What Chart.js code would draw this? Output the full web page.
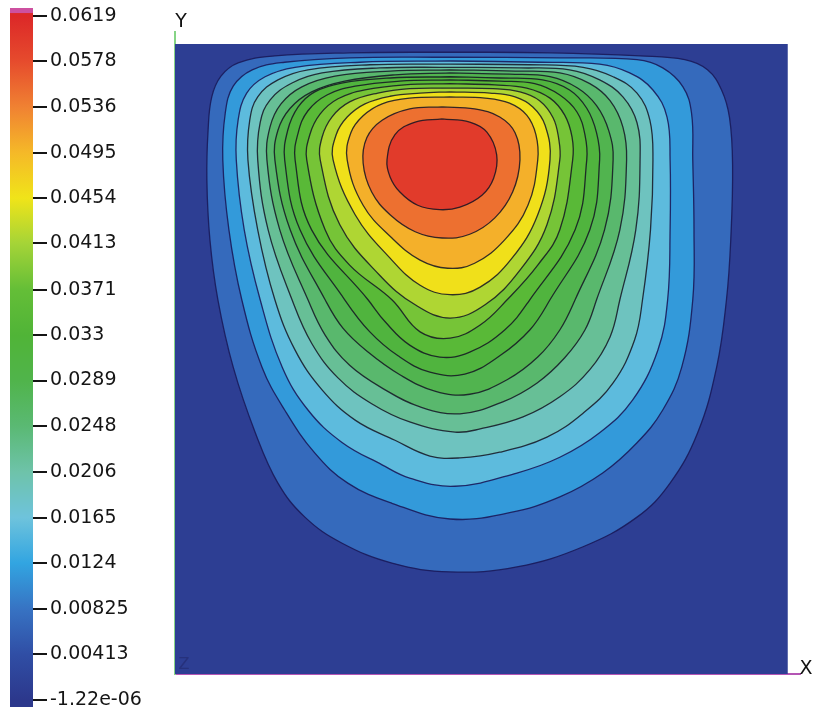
<!DOCTYPE html>
<html><head><meta charset="utf-8">
<script src="https://cdn.jsdelivr.net/npm/chart.js@4.4.1/dist/chart.umd.min.js"></script>
<style>
html,body{margin:0;padding:0;background:#fff;}
#wrap{position:relative;width:813px;height:711px;}
canvas{position:absolute;left:0;top:0;}
</style></head><body>
<div id="wrap">
<canvas id="main" width="813" height="711"></canvas>
<canvas id="bar" width="170" height="711"></canvas>
</div>
<script>
// ---- colour bar (values & labels) ----
const colorbarTicks = [0.0619, 0.0578, 0.0536, 0.0495, 0.0454, 0.0413, 0.0371, 0.033, 0.0289, 0.0248, 0.0206, 0.0165, 0.0124, 0.00825, 0.00413, -1.22e-06];
const colorbarLabels = ['0.0619','0.0578','0.0536','0.0495','0.0454','0.0413','0.0371','0.033','0.0289','0.0248','0.0206','0.0165','0.0124','0.00825','0.00413','-1.22e-06'];

// ---- contour levels (outermost -> innermost), estimated from the band colours ----
const contourLevels = [0.0050, 0.0095, 0.0135, 0.0172, 0.0205, 0.0238, 0.0270, 0.0300, 0.0332, 0.0365, 0.0400, 0.0437, 0.0478, 0.0525, 0.0575];

// ---- cavity outline ----
const cavityX = [0, 1, 1, 0, 0];
const cavityY = [0, 0, 1, 1, 0];

// ---- contour lines, [x, y] in cavity units ----
const contour01 = [[0.449,0.987],[0.612,0.986],[0.759,0.981],[0.832,0.975],[0.869,0.959],[0.892,0.927],[0.905,0.883],[0.910,0.808],[0.907,0.689],[0.900,0.594],[0.884,0.487],[0.853,0.383],[0.808,0.303],[0.754,0.249],[0.666,0.202],[0.558,0.170],[0.449,0.162],[0.354,0.176],[0.272,0.208],[0.212,0.249],[0.168,0.303],[0.131,0.383],[0.095,0.487],[0.070,0.594],[0.057,0.689],[0.052,0.784],[0.054,0.863],[0.060,0.916],[0.075,0.949],[0.103,0.970],[0.163,0.981],[0.285,0.986]];
const contour02 = [[0.449,0.979],[0.628,0.978],[0.754,0.975],[0.796,0.962],[0.829,0.932],[0.843,0.890],[0.845,0.816],[0.847,0.705],[0.845,0.594],[0.827,0.487],[0.796,0.419],[0.754,0.367],[0.698,0.319],[0.628,0.281],[0.546,0.256],[0.449,0.246],[0.354,0.271],[0.282,0.303],[0.228,0.351],[0.179,0.419],[0.142,0.487],[0.109,0.594],[0.088,0.705],[0.078,0.816],[0.082,0.890],[0.095,0.933],[0.126,0.959],[0.179,0.971],[0.285,0.978]];
const contour03 = [[0.449,0.973],[0.595,0.971],[0.693,0.968],[0.742,0.954],[0.780,0.927],[0.803,0.884],[0.808,0.816],[0.808,0.705],[0.804,0.594],[0.788,0.514],[0.747,0.435],[0.693,0.383],[0.628,0.344],[0.558,0.319],[0.457,0.298],[0.383,0.311],[0.338,0.332],[0.272,0.368],[0.217,0.419],[0.175,0.487],[0.139,0.594],[0.113,0.705],[0.100,0.816],[0.103,0.879],[0.117,0.922],[0.147,0.948],[0.196,0.963],[0.302,0.971]];
const contour04 = [[0.449,0.968],[0.579,0.967],[0.666,0.963],[0.715,0.948],[0.754,0.922],[0.775,0.879],[0.780,0.816],[0.776,0.705],[0.763,0.594],[0.750,0.530],[0.715,0.462],[0.666,0.414],[0.607,0.376],[0.530,0.352],[0.465,0.343],[0.416,0.346],[0.359,0.371],[0.294,0.403],[0.240,0.451],[0.196,0.514],[0.163,0.594],[0.135,0.705],[0.119,0.816],[0.122,0.879],[0.135,0.916],[0.168,0.943],[0.217,0.959],[0.318,0.967]];
const contour05 = [[0.449,0.963],[0.563,0.962],[0.644,0.959],[0.693,0.943],[0.731,0.916],[0.754,0.875],[0.759,0.816],[0.752,0.705],[0.726,0.594],[0.710,0.535],[0.677,0.483],[0.628,0.440],[0.568,0.408],[0.498,0.389],[0.457,0.384],[0.383,0.400],[0.321,0.429],[0.266,0.470],[0.223,0.525],[0.191,0.594],[0.152,0.705],[0.135,0.816],[0.139,0.875],[0.155,0.911],[0.191,0.938],[0.240,0.954],[0.334,0.962]];
const contour06 = [[0.449,0.959],[0.555,0.957],[0.628,0.954],[0.677,0.937],[0.710,0.910],[0.731,0.868],[0.737,0.816],[0.726,0.705],[0.688,0.594],[0.669,0.546],[0.636,0.502],[0.591,0.462],[0.535,0.432],[0.465,0.413],[0.400,0.424],[0.343,0.451],[0.285,0.490],[0.245,0.538],[0.217,0.594],[0.171,0.705],[0.150,0.816],[0.155,0.868],[0.173,0.905],[0.207,0.932],[0.261,0.949],[0.351,0.957]];
const contour07 = [[0.449,0.954],[0.546,0.952],[0.612,0.948],[0.657,0.930],[0.688,0.902],[0.708,0.862],[0.715,0.816],[0.701,0.705],[0.653,0.594],[0.628,0.546],[0.592,0.503],[0.542,0.467],[0.481,0.444],[0.424,0.449],[0.367,0.475],[0.315,0.511],[0.274,0.549],[0.245,0.594],[0.188,0.705],[0.163,0.816],[0.168,0.863],[0.188,0.898],[0.223,0.924],[0.277,0.941],[0.359,0.951]];
const contour08 = [[0.449,0.948],[0.530,0.946],[0.600,0.943],[0.644,0.927],[0.672,0.898],[0.688,0.859],[0.693,0.816],[0.677,0.705],[0.612,0.594],[0.579,0.546],[0.530,0.505],[0.473,0.476],[0.416,0.479],[0.364,0.505],[0.318,0.543],[0.277,0.594],[0.204,0.705],[0.179,0.816],[0.184,0.863],[0.201,0.900],[0.228,0.924],[0.272,0.938],[0.351,0.946]];
const contour09 = [[0.449,0.943],[0.530,0.941],[0.587,0.937],[0.628,0.919],[0.656,0.892],[0.669,0.856],[0.672,0.816],[0.653,0.705],[0.579,0.594],[0.538,0.546],[0.481,0.511],[0.432,0.503],[0.383,0.522],[0.343,0.559],[0.315,0.594],[0.223,0.705],[0.196,0.816],[0.201,0.859],[0.217,0.894],[0.248,0.919],[0.294,0.933],[0.367,0.941]];
const contour10 = [[0.449,0.937],[0.522,0.935],[0.574,0.930],[0.612,0.914],[0.636,0.887],[0.648,0.852],[0.649,0.816],[0.628,0.705],[0.592,0.649],[0.542,0.594],[0.498,0.554],[0.449,0.533],[0.400,0.543],[0.354,0.594],[0.285,0.649],[0.245,0.705],[0.215,0.816],[0.220,0.856],[0.237,0.889],[0.266,0.913],[0.310,0.927],[0.375,0.935]];
const contour11 = [[0.449,0.930],[0.519,0.929],[0.563,0.924],[0.595,0.910],[0.617,0.883],[0.626,0.851],[0.628,0.816],[0.607,0.713],[0.563,0.641],[0.506,0.586],[0.449,0.565],[0.392,0.586],[0.334,0.633],[0.269,0.713],[0.237,0.816],[0.240,0.852],[0.256,0.884],[0.285,0.908],[0.331,0.922],[0.383,0.929]];
const contour12 = [[0.449,0.924],[0.514,0.922],[0.555,0.916],[0.584,0.900],[0.604,0.871],[0.612,0.816],[0.592,0.729],[0.550,0.660],[0.498,0.614],[0.449,0.602],[0.400,0.617],[0.351,0.660],[0.294,0.729],[0.258,0.816],[0.263,0.856],[0.281,0.884],[0.310,0.905],[0.351,0.917],[0.400,0.922]];
const contour13 = [[0.449,0.916],[0.506,0.914],[0.546,0.906],[0.574,0.887],[0.589,0.856],[0.592,0.816],[0.576,0.744],[0.538,0.689],[0.489,0.652],[0.445,0.644],[0.400,0.657],[0.354,0.692],[0.307,0.744],[0.281,0.816],[0.287,0.859],[0.307,0.886],[0.338,0.905],[0.383,0.914]];
const contour14 = [[0.436,0.900],[0.489,0.897],[0.530,0.884],[0.555,0.859],[0.563,0.816],[0.551,0.765],[0.522,0.724],[0.481,0.698],[0.436,0.692],[0.392,0.702],[0.351,0.729],[0.321,0.765],[0.307,0.811],[0.313,0.851],[0.338,0.879],[0.383,0.897]];
const contour15 = [[0.436,0.881],[0.481,0.876],[0.509,0.860],[0.525,0.824],[0.520,0.787],[0.501,0.760],[0.465,0.741],[0.432,0.737],[0.396,0.744],[0.367,0.765],[0.351,0.789],[0.346,0.816],[0.359,0.856],[0.392,0.876]];

const contours = [contour01, contour02, contour03, contour04, contour05, contour06, contour07, contour08, contour09, contour10, contour11, contour12, contour13, contour14, contour15];

// ---- colour map (style), one colour per colour-bar tick ----
const cmapColors = [[220,40,40],[230,75,45],[240,130,50],[245,185,40],[240,228,25],[165,212,55],[100,190,55],[80,180,55],[80,180,75],[90,185,115],[110,195,170],[110,195,220],[50,165,225],[55,115,195],[48,78,165],[44,56,140]];
const aboveColor = [205,80,160];

function colorAt(v) {
  const n = colorbarTicks.length;
  if (v >= colorbarTicks[0]) return cmapColors[0];
  if (v <= colorbarTicks[n-1]) return cmapColors[n-1];
  for (let i = 0; i < n - 1; i++) {
    const a = colorbarTicks[i], b = colorbarTicks[i+1];
    if (v <= a && v >= b) {
      const f = (a - v) / (a - b);
      const ca = cmapColors[i], cb = cmapColors[i+1];
      return ca.map((c, k) => Math.round(c + (cb[k] - c) * f));
    }
  }
  return cmapColors[n-1];
}
const rgb = c => `rgb(${c[0]},${c[1]},${c[2]})`;

// ---- main contour chart ----
const datasets = [{
  data: cavityX.map((x, i) => ({x, y: cavityY[i]})),
  fill: 'shape', backgroundColor: rgb(colorAt(0.0012)),
  borderWidth: 0, pointRadius: 0, tension: 0, order: 100
}];
contours.forEach((c, i) => {
  const lo = contourLevels[i];
  const hi = i + 1 < contourLevels.length ? contourLevels[i+1] : colorbarTicks[0];
  const pts = c.map(([x, y]) => ({x, y}));
  pts.push({x: c[0][0], y: c[0][1]});
  datasets.push({
    data: pts, fill: 'shape', backgroundColor: rgb(colorAt((lo + hi) / 2)),
    borderColor: i < 3 ? 'rgba(25,25,90,0.9)' : 'rgba(20,20,35,0.85)',
    borderWidth: 1.3, pointRadius: 0, tension: 0.4, order: 50 - i
  });
});

const axisLabels = {
  id: 'axisLabels',
  afterDraw(chart) {
    const {ctx, scales: {x, y}} = chart;
    ctx.save();
    ctx.font = '19px "DejaVu Sans"';
    ctx.fillStyle = '#111';
    ctx.textAlign = 'center';
    ctx.textBaseline = 'middle';
    ctx.fillText('Y', x.left + 6, y.top - 10);
    ctx.fillText('X', x.right + 6, y.bottom - 5);
    ctx.fillStyle = '#26317c';
    ctx.font = '16px "DejaVu Sans"';
    ctx.fillText('Z', x.left + 9, y.bottom - 9);
    ctx.restore();
  }
};

new Chart(document.getElementById('main'), {
  type: 'line',
  data: {datasets},
  plugins: [axisLabels],
  options: {
    responsive: false, animation: false,
    layout: {padding: {left: 175, right: 13, top: 32, bottom: 37}},
    plugins: {legend: {display: false}, tooltip: {enabled: false}},
    scales: {
      x: {type: 'linear', min: 0, max: 1.02,
          ticks: {display: false}, grid: {display: false, drawTicks: false},
          border: {color: '#b455b4', width: 2}},
      y: {type: 'linear', min: 0, max: 1.019,
          ticks: {display: false}, grid: {display: false, drawTicks: false},
          border: {color: '#86d486', width: 2}}
    }
  }
});

// ---- colour bar chart ----
const barMin = -0.00063, barMax = 0.0626;
new Chart(document.getElementById('bar'), {
  type: 'bar',
  data: {
    labels: ['range'],
    datasets: [{
      data: [[barMin, barMax]],
      barPercentage: 1, categoryPercentage: 1, borderWidth: 0,
      backgroundColor: (ctx) => {
        const chart = ctx.chart;
        const area = chart.chartArea;
        if (!area) return 'rgba(0,0,0,0)';
        const ys = chart.scales.y;
        const g = chart.ctx.createLinearGradient(0, area.bottom, 0, area.top);
        const off = v => Math.min(1, Math.max(0, (area.bottom - ys.getPixelForValue(v)) / (area.bottom - area.top)));
        for (let i = colorbarTicks.length - 1; i >= 0; i--) {
          g.addColorStop(off(colorbarTicks[i]), rgb(cmapColors[i]));
        }
        g.addColorStop(off(colorbarTicks[0] + 0.0002), rgb(cmapColors[0]));
        g.addColorStop(off(colorbarTicks[0] + 0.00025), rgb(aboveColor));
        g.addColorStop(1, rgb(aboveColor));
        return g;
      }
    }]
  },
  options: {
    responsive: false, animation: false,
    layout: {padding: {left: 10, right: 0, top: 8, bottom: 4}},
    plugins: {legend: {display: false}, tooltip: {enabled: false}},
    scales: {
      x: {display: false},
      y: {
        position: 'right', min: barMin, max: barMax,
        afterBuildTicks: s => { s.ticks = colorbarTicks.map(v => ({value: v})); },
        afterFit: s => { s.width = 137; s.paddingTop = 0; s.paddingBottom = 0; },
        ticks: {
          callback: (v, i) => colorbarLabels[i],
          font: {family: '"DejaVu Sans"', size: 19},
          color: '#151515', padding: 3, autoSkip: false
        },
        grid: {drawOnChartArea: false, drawTicks: true, tickLength: 14, color: '#151515', lineWidth: 2},
        border: {display: false}
      }
    }
  }
});
</script>
</body></html>
